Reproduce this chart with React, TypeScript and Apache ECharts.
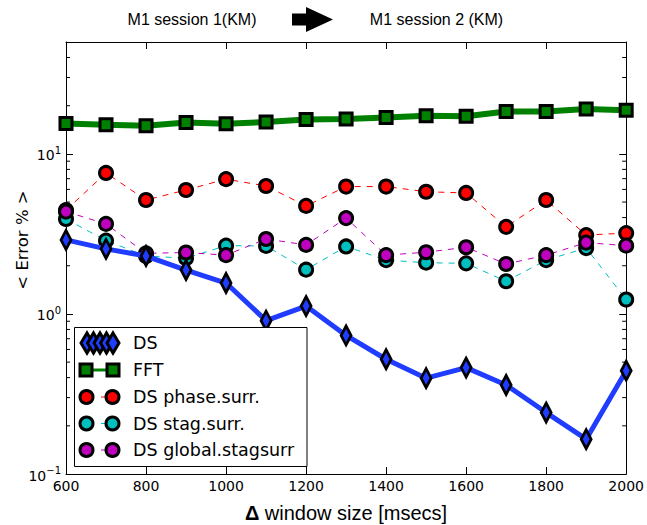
import React, { useEffect, useRef } from "react";
import * as echarts from "echarts";

const windowSizes = [600, 700, 800, 900, 1000, 1100, 1200, 1300, 1400, 1500, 1600, 1700, 1800, 1900, 2000];
const dsValues = [2.9, 2.55, 2.3, 1.88, 1.56, 0.908, 1.12, 0.734, 0.521, 0.397, 0.462, 0.36, 0.242, 0.165, 0.442];
const fftValues = [15.5, 15.2, 15.0, 15.7, 15.4, 15.8, 16.4, 16.5, 16.9, 17.3, 17.2, 18.4, 18.4, 19.1, 18.7];
const phaseValues = [4.45, 7.6, 5.15, 5.95, 6.95, 6.3, 4.73, 6.25, 6.25, 5.8, 5.7, 3.5, 5.15, 3.11, 3.2];
const stagValues = [3.92, 2.87, 2.3, 2.23, 2.67, 2.66, 1.89, 2.64, 2.17, 2.09, 2.07, 1.6, 2.17, 2.58, 1.23];
const globalValues = [4.36, 3.65, 2.39, 2.42, 2.33, 2.94, 2.7, 3.97, 2.33, 2.43, 2.61, 2.05, 2.33, 2.79, 2.67];

const xTicks = { min: 600, max: 2000, interval: 200 };
const yRange = { min: 0.1, max: 50 };
const legendNames = ["DS", "FFT", "DS phase.surr.", "DS stag.surr.", "DS global.stagsurr"];
const titleLeft = "M1 session 1(KM)";
const titleRight = "M1 session 2 (KM)";

const BLUE = "#1f3cff";
const GREEN = "#008000";
const RED = "#ff0000";
const CYAN = "#00bfbf";
const MAGENTA = "#bf00bf";

const pairs = (vals: number[]) => windowSizes.map((x, i) => [x, vals[i]]);

const superLabel = (v: number) => {
  const e = Math.log10(v);
  const r = Math.round(e);
  if (Math.abs(e - r) > 1e-6) return "";
  const ex = r < 0 ? "\u2212" + -r : String(r);
  return "{b|10}{s|" + ex + "}";
};

function legendGraphics(): any[] {
  const g: any[] = [];
  g.push({
    type: "rect",
    shape: { x: 74.5, y: 327.5, width: 232.5, height: 139 },
    style: { fill: "#fff", stroke: "#000", lineWidth: 1 },
    z: 50,
  });
  const rowY = [343, 370, 397, 423.5, 450];
  for (let i = 0; i < 5; i++) {
    const cx = 87 + i * 6.5;
    const cy = rowY[0];
    g.push({
      type: "polygon",
      shape: { points: [[cx, cy - 10], [cx + 6, cy], [cx, cy + 10], [cx - 6, cy]] },
      style: { fill: BLUE, stroke: "#000", lineWidth: 3 },
      z: 51,
    });
  }
  g.push({
    type: "line",
    shape: { x1: 86, y1: rowY[1], x2: 113, y2: rowY[1] },
    style: { stroke: GREEN, lineWidth: 3 },
    z: 51,
  });
  [86, 113].forEach((cx) =>
    g.push({
      type: "rect",
      shape: { x: cx - 6, y: rowY[1] - 6, width: 12, height: 12 },
      style: { fill: GREEN, stroke: "#000", lineWidth: 3 },
      z: 52,
    })
  );
  [RED, CYAN, MAGENTA].forEach((c, k) => {
    const cy = rowY[2 + k];
    g.push({
      type: "line",
      shape: { x1: 101, y1: cy, x2: 105, y2: cy },
      style: { stroke: c, lineWidth: 1 },
      z: 51,
    });
    [86.5, 112.5].forEach((cx) =>
      g.push({
        type: "circle",
        shape: { cx, cy, r: 6.5 },
        style: { fill: c, stroke: "#000", lineWidth: 3 },
        z: 52,
      })
    );
  });
  legendNames.forEach((n, i) =>
    g.push({
      type: "text",
      x: 133,
      y: rowY[i],
      style: {
        text: n,
        fill: "#000",
        font: "17.5px 'DejaVu Sans'",
        align: "left",
        verticalAlign: "middle",
      },
      z: 53,
    })
  );
  return g;
}

function staticGraphics(): any[] {
  return [
    {
      type: "text",
      x: 192,
      y: 19,
      style: { text: titleLeft, fill: "#000", font: "16px 'Liberation Sans'", align: "center", verticalAlign: "middle" },
    },
    {
      type: "text",
      x: 436.5,
      y: 19,
      style: { text: titleRight, fill: "#000", font: "16px 'Liberation Sans'", align: "center", verticalAlign: "middle" },
    },
    {
      type: "polygon",
      shape: {
        points: [[292, 13.5], [306, 13.5], [306, 7], [333, 19.5], [306, 32], [306, 25.5], [292, 25.5]],
      },
      style: { fill: "#000" },
    },
    {
      type: "text",
      x: 22,
      y: 240,
      rotation: Math.PI / 2,
      style: { text: "< Error % >", fill: "#000", font: "16.5px 'DejaVu Sans'", align: "center", verticalAlign: "middle" },
    },
    {
      type: "text",
      x: 346,
      y: 513,
      style: {
        text: "{d|\u0394} window size [msecs]",
        fill: "#000",
        align: "center",
        verticalAlign: "middle",
        rich: {
          d: { fontSize: 20, fontWeight: "bold", fontFamily: "Liberation Sans", fill: "#000" },
        },
        font: "20px 'Liberation Sans'",
      },
    },
    ...legendGraphics(),
  ];
}

export default function App() {
  const ref = useRef<HTMLDivElement>(null);
  useEffect(() => {
    if (!ref.current) return;
    const chart = echarts.init(ref.current, null, { renderer: "svg" });
    const axisLine = { show: true, onZero: false, lineStyle: { color: "#000", width: 1 } };
    const xBase = {
      type: "value" as const,
      min: xTicks.min,
      max: xTicks.max,
      interval: xTicks.interval,
      axisLine,
      axisTick: { show: true, inside: true, length: 7, lineStyle: { color: "#000", width: 1 } },
      splitLine: { show: false },
    };
    const yBase = {
      type: "log" as const,
      logBase: 10,
      min: yRange.min,
      max: yRange.max,
      axisLine,
      axisTick: { show: true, inside: true, length: 7, lineStyle: { color: "#000", width: 1 } },
      splitLine: { show: false },
    };
    const circleSeries = (name: string, vals: number[], color: string) => ({
      type: "line",
      name,
      data: pairs(vals),
      symbol: "circle",
      symbolSize: 13,
      showAllSymbol: true,
      itemStyle: { color, borderColor: "#000", borderWidth: 3 },
      lineStyle: { color, width: 1, type: [6, 6] },
      z: 2,
    });
    const option: any = {
      animation: false,
      backgroundColor: "#fff",
      grid: { left: 66, right: 19, top: 42, bottom: 51 },
      xAxis: [
        {
          ...xBase,
          position: "bottom",
          axisLabel: {
            color: "#000",
            fontSize: 14,
            fontFamily: "DejaVu Sans",
            margin: 5,
            formatter: (v: number) => String(v),
          },
        },
        { ...xBase, position: "top", axisLabel: { show: false } },
      ],
      yAxis: [
        {
          ...yBase,
          position: "left",
          axisLabel: {
            margin: 5,
            formatter: superLabel,
            rich: {
              b: { fontSize: 14, fontFamily: "DejaVu Sans", color: "#000", verticalAlign: "bottom" },
              s: { fontSize: 10, fontFamily: "DejaVu Sans", color: "#000", verticalAlign: "bottom", padding: [0, 0, 7, 0] },
            },
          },
        },
        { ...yBase, position: "right", axisLabel: { show: false } },
      ],
      series: [
        circleSeries(legendNames[2], phaseValues, RED),
        circleSeries(legendNames[3], stagValues, CYAN),
        circleSeries(legendNames[4], globalValues, MAGENTA),
        {
          type: "line",
          name: legendNames[1],
          data: pairs(fftValues),
          symbol: "rect",
          symbolSize: 12,
          showAllSymbol: true,
          itemStyle: { color: GREEN, borderColor: "#000", borderWidth: 3 },
          lineStyle: { color: GREEN, width: 6 },
          z: 3,
        },
        {
          type: "line",
          name: legendNames[0],
          data: pairs(dsValues),
          symbol: "diamond",
          symbolSize: [10, 19],
          showAllSymbol: true,
          itemStyle: { color: BLUE, borderColor: "#000", borderWidth: 3 },
          lineStyle: { color: BLUE, width: 5 },
          z: 4,
        },
      ],
      graphic: staticGraphics(),
    };
    chart.setOption(option);

    const xl = chart.convertToPixel({ xAxisIndex: 0 }, xTicks.min) as number;
    const xr = chart.convertToPixel({ xAxisIndex: 0 }, xTicks.max) as number;
    const minor: any[] = [];
    for (const dec of [0.1, 1, 10]) {
      for (let k = 2; k <= 9; k++) {
        const v = dec * k;
        if (v >= yRange.max) continue;
        const py = chart.convertToPixel({ yAxisIndex: 0 }, v) as number;
        minor.push({
          type: "line",
          shape: { x1: xl, y1: py, x2: xl + 4, y2: py },
          style: { stroke: "#000", lineWidth: 1 },
          z: 1,
        });
        minor.push({
          type: "line",
          shape: { x1: xr - 4, y1: py, x2: xr, y2: py },
          style: { stroke: "#000", lineWidth: 1 },
          z: 1,
        });
      }
    }
    chart.setOption({ graphic: [...staticGraphics(), ...minor] });
    return () => chart.dispose();
  }, []);
  return (
    <div
      ref={ref}
      style={{ position: "absolute", left: 0, top: 0, width: 647, height: 525, background: "#fff" }}
    />
  );
}
